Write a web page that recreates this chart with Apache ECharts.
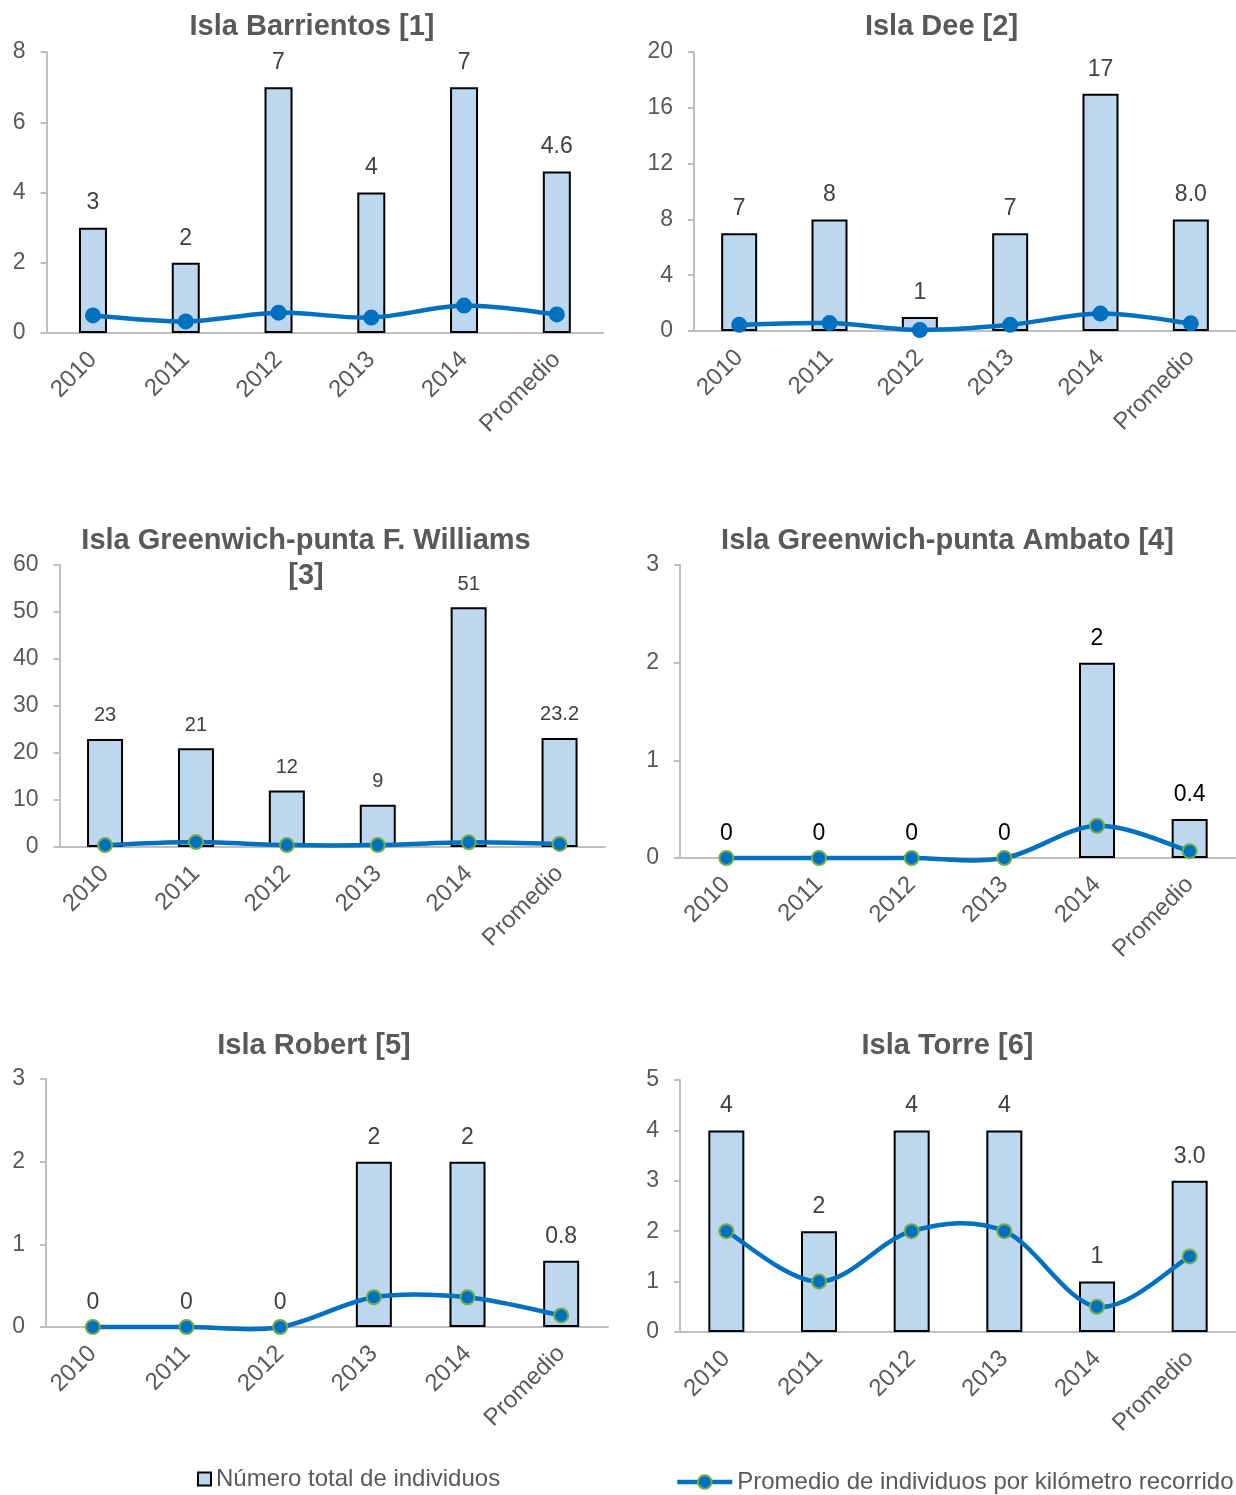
<!DOCTYPE html>
<html>
<head>
<meta charset="utf-8">
<script src="https://cdn.jsdelivr.net/npm/echarts@6/dist/echarts.min.js"></script>
<style>
  html, body { margin: 0; padding: 0; background: #ffffff; }
  #chart { width: 1236px; height: 1495px; }
</style>
</head>
<body>
<div id="chart"></div>
<script>
// Categories shared by every panel
const categories = ['2010', '2011', '2012', '2013', '2014', 'Promedio'];

// Panel titles
const titleBarrientos = 'Isla Barrientos [1]';
const titleDee = 'Isla Dee [2]';
const titleWilliams = 'Isla Greenwich-punta F. Williams\n[3]';
const titleAmbato = 'Isla Greenwich-punta Ambato [4]';
const titleRobert = 'Isla Robert [5]';
const titleTorre = 'Isla Torre [6]';

// Total number of individuals per year (last value = average)
const totalBarrientos = [3, 2, 7, 4, 7, 4.6];
const totalDee = [7, 8, 1, 7, 17, 8.0];
const totalWilliams = [23, 21, 12, 9, 51, 23.2];
const totalAmbato = [0, 0, 0, 0, 2, 0.4];
const totalRobert = [0, 0, 0, 2, 2, 0.8];
const totalTorre = [4, 2, 4, 4, 1, 3.0];

// Mean individuals per kilometre travelled
const perKmBarrientos = [0.5, 0.33, 0.58, 0.44, 0.78, 0.53];
const perKmDee = [0.44, 0.57, 0.07, 0.44, 1.25, 0.55];
const perKmWilliams = [0.4, 1.05, 0.4, 0.4, 1.0, 0.65];
const perKmAmbato = [0, 0, 0, 0, 0.33, 0.07];
const perKmRobert = [0, 0, 0, 0.36, 0.36, 0.14];
const perKmTorre = [2, 1, 2, 2, 0.5, 1.5];

// Y axis ranges
const yMax = [8, 20, 60, 3, 3, 5];
const yStep = [2, 4, 10, 1, 1, 1];

// Series names (legend)
const barName = 'Número total de individuos';
const lineName = 'Promedio de individuos por kilómetro recorrido';

const FONT = '"Liberation Sans", Arial, Helvetica, sans-serif';
const GREY = '#595959';
const BAR_FILL = '#bdd7ee';
const LINE_BLUE = '#0070c0';
const MARKER_GREEN = '#70ad47';
const LINE_WIDTH = 4.5;
const MARKER_SIZE = 14;

const panels = [
  { title: titleBarrientos, total: totalBarrientos, perKm: perKmBarrientos,
    grid: { left: 46.6, top: 52, width: 556.6, height: 281 }, titleX: 312, titleY: 27,
    barWidth: 28, labelSize: 23, labelColor: '#404040', markerBorder: LINE_BLUE },
  { title: titleDee, total: totalDee, perKm: perKmDee,
    grid: { left: 694, top: 52, width: 546, height: 279 }, titleX: 941.5, titleY: 27,
    barWidth: 36, labelSize: 23, labelColor: '#404040', markerBorder: LINE_BLUE },
  { title: titleWilliams, total: totalWilliams, perKm: perKmWilliams,
    grid: { left: 59.6, top: 565, width: 545.4, height: 282 }, titleX: 306, titleY: 541,
    barWidth: 36, labelSize: 20, labelColor: '#404040', markerBorder: MARKER_GREEN },
  { title: titleAmbato, total: totalAmbato, perKm: perKmAmbato,
    grid: { left: 680, top: 565, width: 560, height: 293 }, titleX: 947.5, titleY: 541,
    barWidth: 36, labelSize: 23, labelColor: '#000000', markerBorder: MARKER_GREEN },
  { title: titleRobert, total: totalRobert, perKm: perKmRobert,
    grid: { left: 46, top: 1079, width: 562, height: 248 }, titleX: 314, titleY: 1046,
    barWidth: 36, labelSize: 23, labelColor: '#404040', markerBorder: MARKER_GREEN },
  { title: titleTorre, total: totalTorre, perKm: perKmTorre,
    grid: { left: 680, top: 1080, width: 560, height: 252 }, titleX: 947.5, titleY: 1046,
    barWidth: 36, labelSize: 23, labelColor: '#404040', markerBorder: MARKER_GREEN }
];

const TITLE_LH = 35;

// Smoothed curve through the per-km points (cardinal spline, tension 1/6),
// each segment placed with the panel's own axes via api.coord.
function curveSeries(values, gridIdx) {
  const n = values.length;
  const clampIdx = j => Math.min(Math.max(j, 0), n - 1);
  return {
    type: 'custom',
    name: 'curve-' + gridIdx,
    xAxisIndex: gridIdx,
    yAxisIndex: gridIdx,
    data: values.map((v, k) => [k, v]),
    silent: true,
    z: 3,
    renderItem: (params, api) => {
      const k = params.dataIndex;
      if (k >= n - 1) return null;
      const pt = j => api.coord([clampIdx(j), values[clampIdx(j)]]);
      const p0 = pt(k - 1), p1 = pt(k), p2 = pt(k + 1), p3 = pt(k + 2);
      const t = 1 / 6;
      return {
        type: 'bezierCurve',
        shape: {
          x1: p1[0], y1: p1[1], x2: p2[0], y2: p2[1],
          cpx1: p1[0] + (p2[0] - p0[0]) * t, cpy1: p1[1] + (p2[1] - p0[1]) * t,
          cpx2: p2[0] - (p3[0] - p1[0]) * t, cpy2: p2[1] - (p3[1] - p1[1]) * t
        },
        style: { stroke: LINE_BLUE, lineWidth: LINE_WIDTH, fill: 'none', lineCap: 'round' }
      };
    }
  };
}

const option = {
  animation: false,
  backgroundColor: '#ffffff',
  textStyle: { fontFamily: FONT },
  title: panels.map(p => ({
    text: p.title,
    left: p.titleX,
    top: p.titleY - TITLE_LH / 2,
    textAlign: 'center',
    padding: 0,
    textStyle: { fontFamily: FONT, fontSize: 29, fontWeight: 'bold', color: GREY, lineHeight: TITLE_LH }
  })),
  grid: panels.map(p => Object.assign({ containLabel: false }, p.grid)),
  xAxis: panels.map((p, i) => ({
    type: 'category',
    gridIndex: i,
    data: categories,
    axisLine: { lineStyle: { color: '#bfbfbf', width: 2 } },
    axisTick: { show: false },
    axisLabel: { interval: 0, rotate: 45, margin: 23, color: GREY, fontSize: 24, fontFamily: FONT }
  })),
  yAxis: panels.map((p, i) => ({
    type: 'value',
    gridIndex: i,
    min: 0,
    max: yMax[i],
    interval: yStep[i],
    axisLine: { show: true, lineStyle: { color: '#bfbfbf', width: 2 } },
    axisTick: { show: true, length: 6, lineStyle: { color: '#bfbfbf', width: 2 } },
    splitLine: { show: false },
    axisLabel: { margin: 21, color: GREY, fontSize: 23, fontFamily: FONT }
  })),
  legend: [
    {
      data: [{ name: barName, icon: 'rect', itemStyle: { color: BAR_FILL, borderColor: '#000000', borderWidth: 2 } }],
      left: 197, top: 1467, padding: 0,
      itemWidth: 13, itemHeight: 13,
      selectedMode: false,
      textStyle: { fontFamily: FONT, fontSize: 24, color: GREY }
    },
    {
      data: [{
        name: lineName,
        itemStyle: { color: LINE_BLUE, borderColor: MARKER_GREEN, borderWidth: 2 },
        lineStyle: { color: LINE_BLUE, width: LINE_WIDTH, opacity: 1 }
      }],
      lineStyle: { color: LINE_BLUE, width: LINE_WIDTH, opacity: 1 },
      left: 675, top: 1470, padding: 0,
      itemWidth: 55, itemHeight: 17,
      selectedMode: false,
      textStyle: { fontFamily: FONT, fontSize: 24, color: GREY }
    }
  ],
  series: []
};

panels.forEach((p, i) => {
  option.series.push({
    name: barName,
    type: 'bar',
    xAxisIndex: i,
    yAxisIndex: i,
    // zero-height bars are left undrawn (no outline)
    data: p.total.map(v => (v === 0 ? { value: v, itemStyle: { borderWidth: 0 } } : v)),
    barWidth: p.barWidth,
    itemStyle: { color: BAR_FILL, borderColor: '#000000', borderWidth: 2 },
    label: {
      show: true,
      position: 'top',
      distance: 13,
      color: p.labelColor,
      fontSize: p.labelSize,
      fontFamily: FONT,
      formatter: d => d.dataIndex === categories.length - 1 ? Number(d.value).toFixed(1) : String(d.value)
    },
    z: 2
  });
  option.series.push(curveSeries(p.perKm, i));
  option.series.push({
    name: lineName,
    type: 'line',
    xAxisIndex: i,
    yAxisIndex: i,
    data: p.perKm,
    symbol: 'circle',
    symbolSize: MARKER_SIZE,
    lineStyle: { color: LINE_BLUE, width: LINE_WIDTH, opacity: 0 },
    itemStyle: { color: LINE_BLUE, borderColor: p.markerBorder, borderWidth: 2 },
    z: 4
  });
});

const chart = echarts.init(document.getElementById('chart'), null, { renderer: 'canvas' });
chart.setOption(option);
</script>
</body>
</html>
